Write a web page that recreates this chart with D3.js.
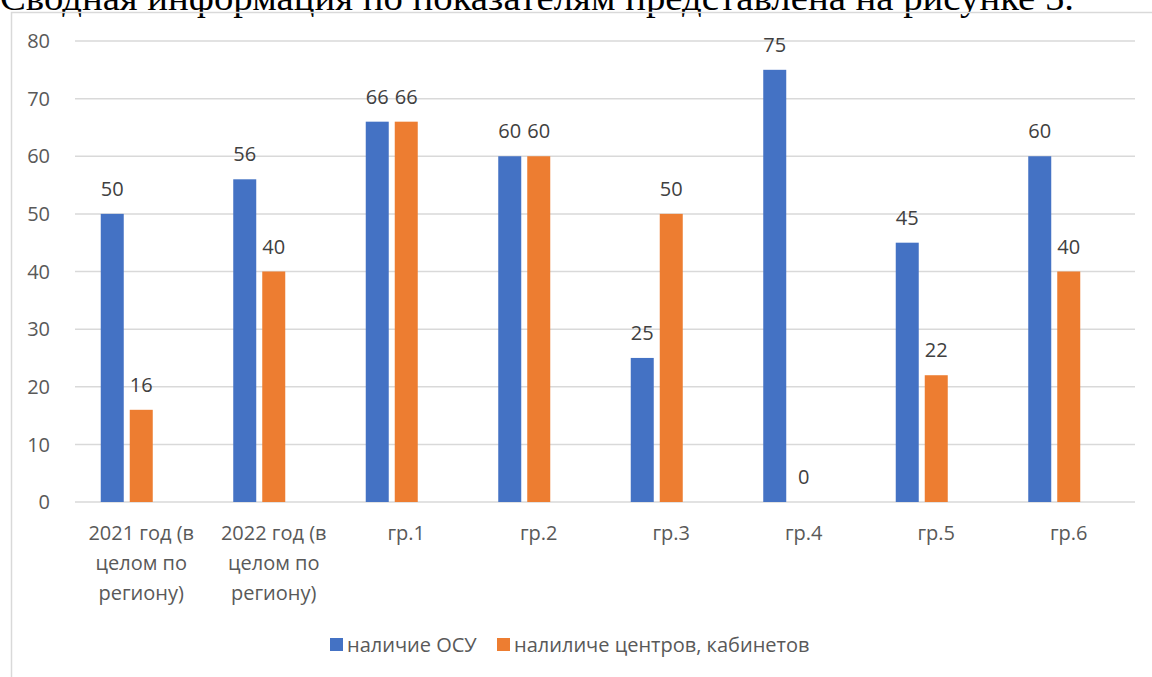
<!DOCTYPE html>
<html>
<head>
<meta charset="utf-8">
<script src="https://cdn.jsdelivr.net/npm/d3@7"></script>
<style>
  body { margin: 0; background: #fff; }
  svg { display: block; }
</style>
</head>
<body>
<div id="chart"></div>
<script>
// данные с рисунка
const categories = [
    ["2021 год (в", "целом по", "региону)"],
    ["2022 год (в", "целом по", "региону)"],
    ["гр.1"], ["гр.2"], ["гр.3"], ["гр.4"], ["гр.5"], ["гр.6"]
];
const seriesNames = ["наличие ОСУ", "налиличе центров, кабинетов"];
const osuValues = [50, 56, 66, 60, 25, 75, 45, 60];
const centersValues = [16, 40, 66, 60, 50, 0, 22, 40];
const yTicks = [0, 10, 20, 30, 40, 50, 60, 70, 80];
const colors = ["#4472C4", "#ED7D31"];

const width = 1152, height = 677;
const plot = { left: 75, right: 1135, top: 41, bottom: 502 };
const font = "'Open Sans', sans-serif";

const svg = d3.select("#chart")
    .append("svg")
    .attr("width", width)
    .attr("height", height);

// заголовок документа (обрезан сверху)
svg.append("text")
    .attr("x", 0)
    .attr("y", 10)
    .attr("font-family", "'Liberation Serif', 'Times New Roman', serif")
    .attr("font-size", 36)
    .attr("textLength", 1074)
    .attr("lengthAdjust", "spacingAndGlyphs")
    .attr("fill", "#000")
    .text("Сводная информация по показателям представлена на рисунке 5.");

// рамка диаграммы
svg.append("rect")
    .attr("x", 11.5)
    .attr("y", 12.5)
    .attr("width", 1200)
    .attr("height", 800)
    .attr("fill", "none")
    .attr("stroke", "#d9d9d9")
    .attr("stroke-width", 1.5);

const idx = d3.range(categories.length);

const x = d3.scaleBand()
    .domain(idx)
    .range([plot.left, plot.right])
    .paddingInner(1 - 81 / 132.5)
    .paddingOuter((1 - 81 / 132.5) / 2);

// три слота: третий ряд пустой, как в исходной диаграмме
const xInner = d3.scaleBand()
    .domain([0, 1, 2])
    .range([0, x.bandwidth()])
    .paddingInner(0.207);

const y = d3.scaleLinear()
    .domain([0, 80])
    .range([plot.bottom, plot.top]);

// сетка
svg.append("g")
    .selectAll("line")
    .data(yTicks)
    .enter()
    .append("line")
    .attr("x1", plot.left)
    .attr("x2", plot.right)
    .attr("y1", d => y(d))
    .attr("y2", d => y(d))
    .attr("stroke", "#d9d9d9")
    .attr("stroke-width", 1.5);

// подписи оси Y
svg.append("g")
    .selectAll("text")
    .data(yTicks)
    .enter()
    .append("text")
    .attr("x", 50)
    .attr("y", d => y(d))
    .attr("dy", "0.36em")
    .attr("text-anchor", "end")
    .attr("font-family", font)
    .attr("font-size", 20)
    .attr("fill", "#595959")
    .text(d => d);

const series = [osuValues, centersValues];

series.forEach((values, s) => {
    const g = svg.append("g");

    g.selectAll("rect")
        .data(values)
        .enter()
        .append("rect")
        .attr("x", (d, i) => x(i) + xInner(s))
        .attr("y", d => y(d))
        .attr("width", xInner.bandwidth())
        .attr("height", d => y(0) - y(d))
        .attr("fill", colors[s]);

    // подписи значений
    g.selectAll("text")
        .data(values)
        .enter()
        .append("text")
        .attr("x", (d, i) => x(i) + xInner(s) + xInner.bandwidth() / 2)
        .attr("y", d => y(d) - 18)
        .attr("text-anchor", "middle")
        .attr("font-family", font)
        .attr("font-size", 20)
        .attr("fill", "#404040")
        .text(d => d);
});

// подписи категорий
const catLabels = svg.append("g")
    .selectAll("text")
    .data(categories)
    .enter()
    .append("text")
    .attr("x", (d, i) => x(i) + x.bandwidth() / 2)
    .attr("y", 540)
    .attr("text-anchor", "middle")
    .attr("font-family", font)
    .attr("font-size", 20)
    .attr("fill", "#595959");

catLabels.selectAll("tspan")
    .data(d => d)
    .enter()
    .append("tspan")
    .attr("x", function () { return d3.select(this.parentNode).attr("x"); })
    .attr("dy", (d, i) => i === 0 ? 0 : 30)
    .text(d => d);

// легенда
const legendX = [330, 497];
const legend = svg.append("g")
    .selectAll("g")
    .data(seriesNames)
    .enter()
    .append("g")
    .attr("transform", (d, i) => `translate(${legendX[i]},638)`);

legend.append("rect")
    .attr("width", 13)
    .attr("height", 13)
    .attr("fill", (d, i) => colors[i]);

legend.append("text")
    .attr("x", 17)
    .attr("y", 7)
    .attr("dy", "0.36em")
    .attr("font-family", font)
    .attr("font-size", 20)
    .attr("fill", "#595959")
    .text(d => d);
</script>
</body>
</html>
